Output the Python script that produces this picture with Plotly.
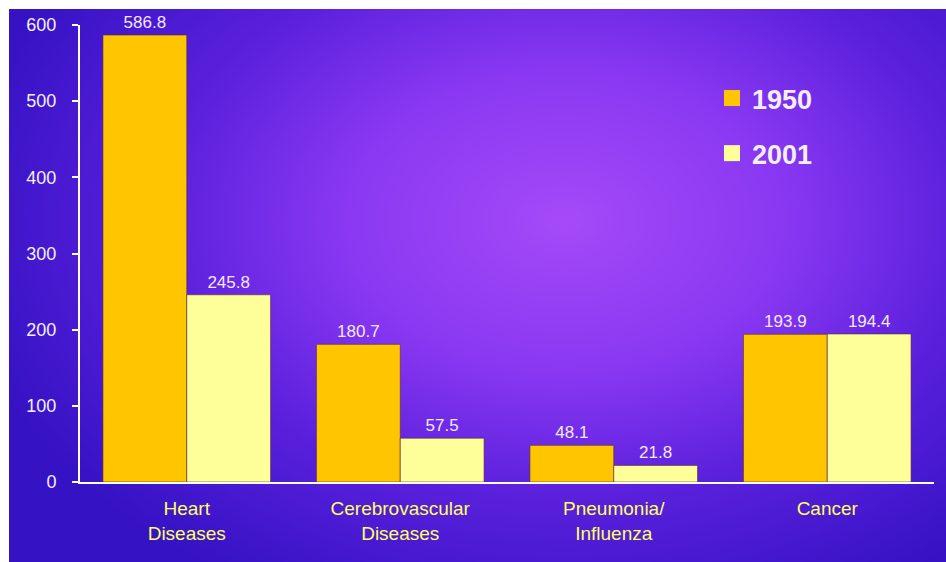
import numpy as np
import plotly.graph_objects as go

# Death rates per 100,000 by cause, 1950 vs 2001
categories = ["Heart<br>Diseases", "Cerebrovascular<br>Diseases", "Pneumonia/<br>Influenza", "Cancer"]
years = ["1950", "2001"]
rates_1950 = [586.8, 180.7, 48.1, 193.9]
rates_2001 = [245.8, 57.5, 21.8, 194.4]
y_ticks = [0, 100, 200, 300, 400, 500, 600]

W, H = 946, 562
FONT = "Liberation Sans, Arial, sans-serif"

fig = go.Figure()

# Radial purple backdrop filling the panel (drawn on its own hidden axes)
gx = np.linspace(-20, W + 20, 200)
gy = np.linspace(-20, H + 20, 130)
GX, GY = np.meshgrid(gx, gy)
cx, cy = 560, 215
r = np.sqrt(((GX - cx) / 520) ** 2 + ((GY - cy) / 360) ** 2)
r = np.clip(r, 0, 1.2)
fig.add_trace(go.Heatmap(
    x=gx, y=gy, z=r, zsmooth="best", showscale=False, hoverinfo="skip",
    colorscale=[[0, "#A44AF8"], [0.35, "#8A38F2"], [0.65, "#5A20DC"], [1, "#3512C4"]],
    xaxis="x", yaxis="y",
))

bar_colors = {"1950": "#FFC600", "2001": "#FFFF99"}
for name, vals in zip(years, [rates_1950, rates_2001]):
    fig.add_trace(go.Bar(
        name=name, x=categories, y=vals,
        marker=dict(color=bar_colors[name], line=dict(color="rgba(90,40,60,0.6)", width=1)),
        text=[f"{v:.1f}" for v in vals], textposition="outside",
        textfont=dict(family=FONT, size=17, color="#F2E8FF"),
        cliponaxis=False, legendgroup=name, showlegend=False,
        xaxis="x2", yaxis="y2",
    ))

# Legend keys with larger square swatches
for name in years:
    fig.add_trace(go.Scatter(
        name=name, x=[None], y=[None], mode="markers",
        marker=dict(symbol="square", size=16, color=bar_colors[name]),
        legendgroup=name, xaxis="x2", yaxis="y2",
    ))

fig.update_layout(
    width=W, height=H,
    margin=dict(l=0, r=0, t=0, b=0, autoexpand=False),
    paper_bgcolor="white",
    plot_bgcolor="rgba(0,0,0,0)",
    barmode="group", bargap=0.215, bargroupgap=0,
    showlegend=True,
    legend=dict(
        x=712 / W, y=1 - 74 / H, xanchor="left", yanchor="top",
        bgcolor="rgba(0,0,0,0)",
        font=dict(family=FONT, size=27, color="#F4EEFF", weight="bold"),
        tracegroupgap=17, itemsizing="trace",
    ),
    xaxis=dict(domain=[9 / W, 1], range=[0, W], visible=False, fixedrange=True, automargin=False),
    yaxis=dict(domain=[0, (H - 9) / H], range=[H, 0], visible=False, fixedrange=True, automargin=False),
    xaxis2=dict(
        domain=[80 / W, 934 / W], anchor="y2", automargin=False,
        showline=True, linecolor="white", linewidth=2,
        ticks="", showgrid=False,
        tickfont=dict(family=FONT, size=19, color="#FFFF66"),
        ticklabelstandoff=8,
    ),
    yaxis2=dict(
        domain=[80 / H, 537 / H], anchor="x2", range=[0, 600], automargin=False,
        tickvals=y_ticks,
        showline=True, linecolor="white", linewidth=2,
        ticks="outside", ticklen=6, tickcolor="white", tickwidth=2,
        showgrid=False, zeroline=False,
        tickfont=dict(family=FONT, size=18, color="#F4EEFF"),
        ticklabelstandoff=12,
    ),
    font=dict(family=FONT),
)

fig.write_html("out.html")
